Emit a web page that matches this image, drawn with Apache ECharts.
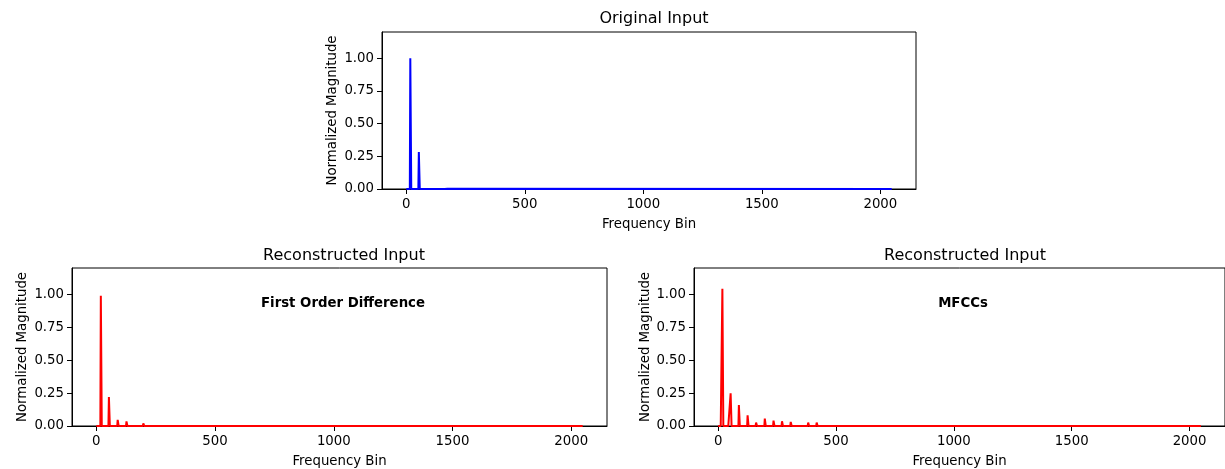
<!DOCTYPE html>
<html>
<head>
<meta charset="utf-8">
<script src="https://cdn.jsdelivr.net/npm/echarts@6/dist/echarts.min.js"></script>
<style>
  html, body { margin: 0; padding: 0; background: #fff; }
  #chart-container { width: 1225px; height: 469px; }
</style>
</head>
<body>
<div id="chart-container"></div>
<script>
// peak positions (frequency bin) and heights
var origBins = [18, 54, 94, 129, 165, 173];
var origMags = [1.0, 0.283, 0.015, 0.008, 0.003, 0.002];

var diffBins = [1, 20, 54, 91, 128, 199, 274];
var diffMags = [0.006, 0.99, 0.22, 0.046, 0.035, 0.02, 0.008];

var mfccBins = [8, 19, 46, 54, 89, 126, 162, 199, 236, 272, 309, 346, 383, 419, 456, 491, 527, 604, 637, 675, 710, 821, 969];
var mfccMags = [0.015, 1.043, 0.01, 0.248, 0.16, 0.081, 0.026, 0.056, 0.041, 0.036, 0.031, 0.013, 0.026, 0.026, 0.015, 0.005, 0.012, 0.004, 0.004, 0.004, 0.005, 0.004, 0.005];

var xTicks = [0, 500, 1000, 1500, 2000];
var yTicks = [0, 0.25, 0.5, 0.75, 1.0];
var nBins = 2048;

var font = 'DejaVu Sans';

// spectrum line: flat at zero with narrow peaks
function spectrum(bins, mags) {
    var pts = [[0, 0]];
    for (var i = 0; i < bins.length; i++) {
        pts.push([bins[i] - 3, 0]);
        pts.push([bins[i] - 1, mags[i]]);
        pts.push([bins[i] + 1, mags[i]]);
        pts.push([bins[i] + 3, 0]);
    }
    pts.push([nBins, 0]);
    return pts;
}

function xAx(idx) {
    return {
        type: 'value', gridIndex: idx,
        min: -102.4, max: 2150.4,
        name: 'Frequency Bin', nameLocation: 'middle', nameGap: 29,
        nameTextStyle: { fontFamily: font, fontSize: 13.3, color: '#000' },
        axisLine: { show: true, onZero: false, lineStyle: { color: '#000', width: 1 } },
        axisTick: { show: true, inside: false, length: 5, customValues: xTicks, lineStyle: { color: '#000' } },
        axisLabel: {
            customValues: xTicks, margin: 9, fontFamily: font, fontSize: 13.3, color: '#000',
            formatter: function (v) { return String(v); }
        },
        splitLine: { show: false }
    };
}

function yAx(idx, gap) {
    return {
        type: 'value', gridIndex: idx,
        min: 0, max: 1.2,
        name: 'Normalized Magnitude', nameLocation: 'middle', nameGap: gap,
        nameTextStyle: { fontFamily: font, fontSize: 13.3, color: '#000' },
        axisLine: { show: true, onZero: false, lineStyle: { color: '#000', width: 1 } },
        axisTick: { show: true, inside: false, length: 5, customValues: yTicks, lineStyle: { color: '#000' } },
        axisLabel: {
            customValues: yTicks, margin: 8, fontFamily: font, fontSize: 13.3, color: '#000',
            formatter: function (v) { return v.toFixed(2); }
        },
        splitLine: { show: false }
    };
}

function titleAt(text, x, y, bold) {
    return {
        text: text, left: x, top: y, textAlign: 'center',
        textStyle: { fontFamily: font, fontSize: bold ? 13.3 : 16, fontWeight: bold ? 'bold' : 'normal', color: '#000' }
    };
}

var chart = echarts.init(document.getElementById('chart-container'));
var option = {
    animation: false,
    backgroundColor: '#fff',
    title: [
        titleAt('Original Input', 649, 6, false),
        titleAt('Reconstructed Input', 339, 243, false),
        titleAt('Reconstructed Input', 960, 243, false),
        titleAt('First Order Difference', 338, 292, true),
        titleAt('MFCCs', 958, 292, true)
    ],
    grid: [
        { left: 382, top: 32, width: 534, height: 157, show: true, borderColor: '#000', borderWidth: 1 },
        { left: 72, top: 268, width: 535, height: 158, show: true, borderColor: '#000', borderWidth: 1 },
        { left: 694, top: 268, width: 533, height: 158, show: true, borderColor: '#000', borderWidth: 1 }
    ],
    xAxis: [xAx(0), xAx(1), xAx(2)],
    yAxis: [yAx(0, 43), yAx(1, 43), yAx(2, 42)],
    series: [
        {
            type: 'line', xAxisIndex: 0, yAxisIndex: 0, showSymbol: false,
            lineStyle: { color: '#0000ff', width: 2 },
            data: spectrum(origBins, origMags)
        },
        {
            type: 'line', xAxisIndex: 1, yAxisIndex: 1, showSymbol: false,
            lineStyle: { color: '#ff0000', width: 2 },
            data: spectrum(diffBins, diffMags)
        },
        {
            type: 'line', xAxisIndex: 2, yAxisIndex: 2, showSymbol: false,
            lineStyle: { color: '#ff0000', width: 2 },
            data: spectrum(mfccBins, mfccMags)
        }
    ]
};
chart.setOption(option);
</script>
</body>
</html>
